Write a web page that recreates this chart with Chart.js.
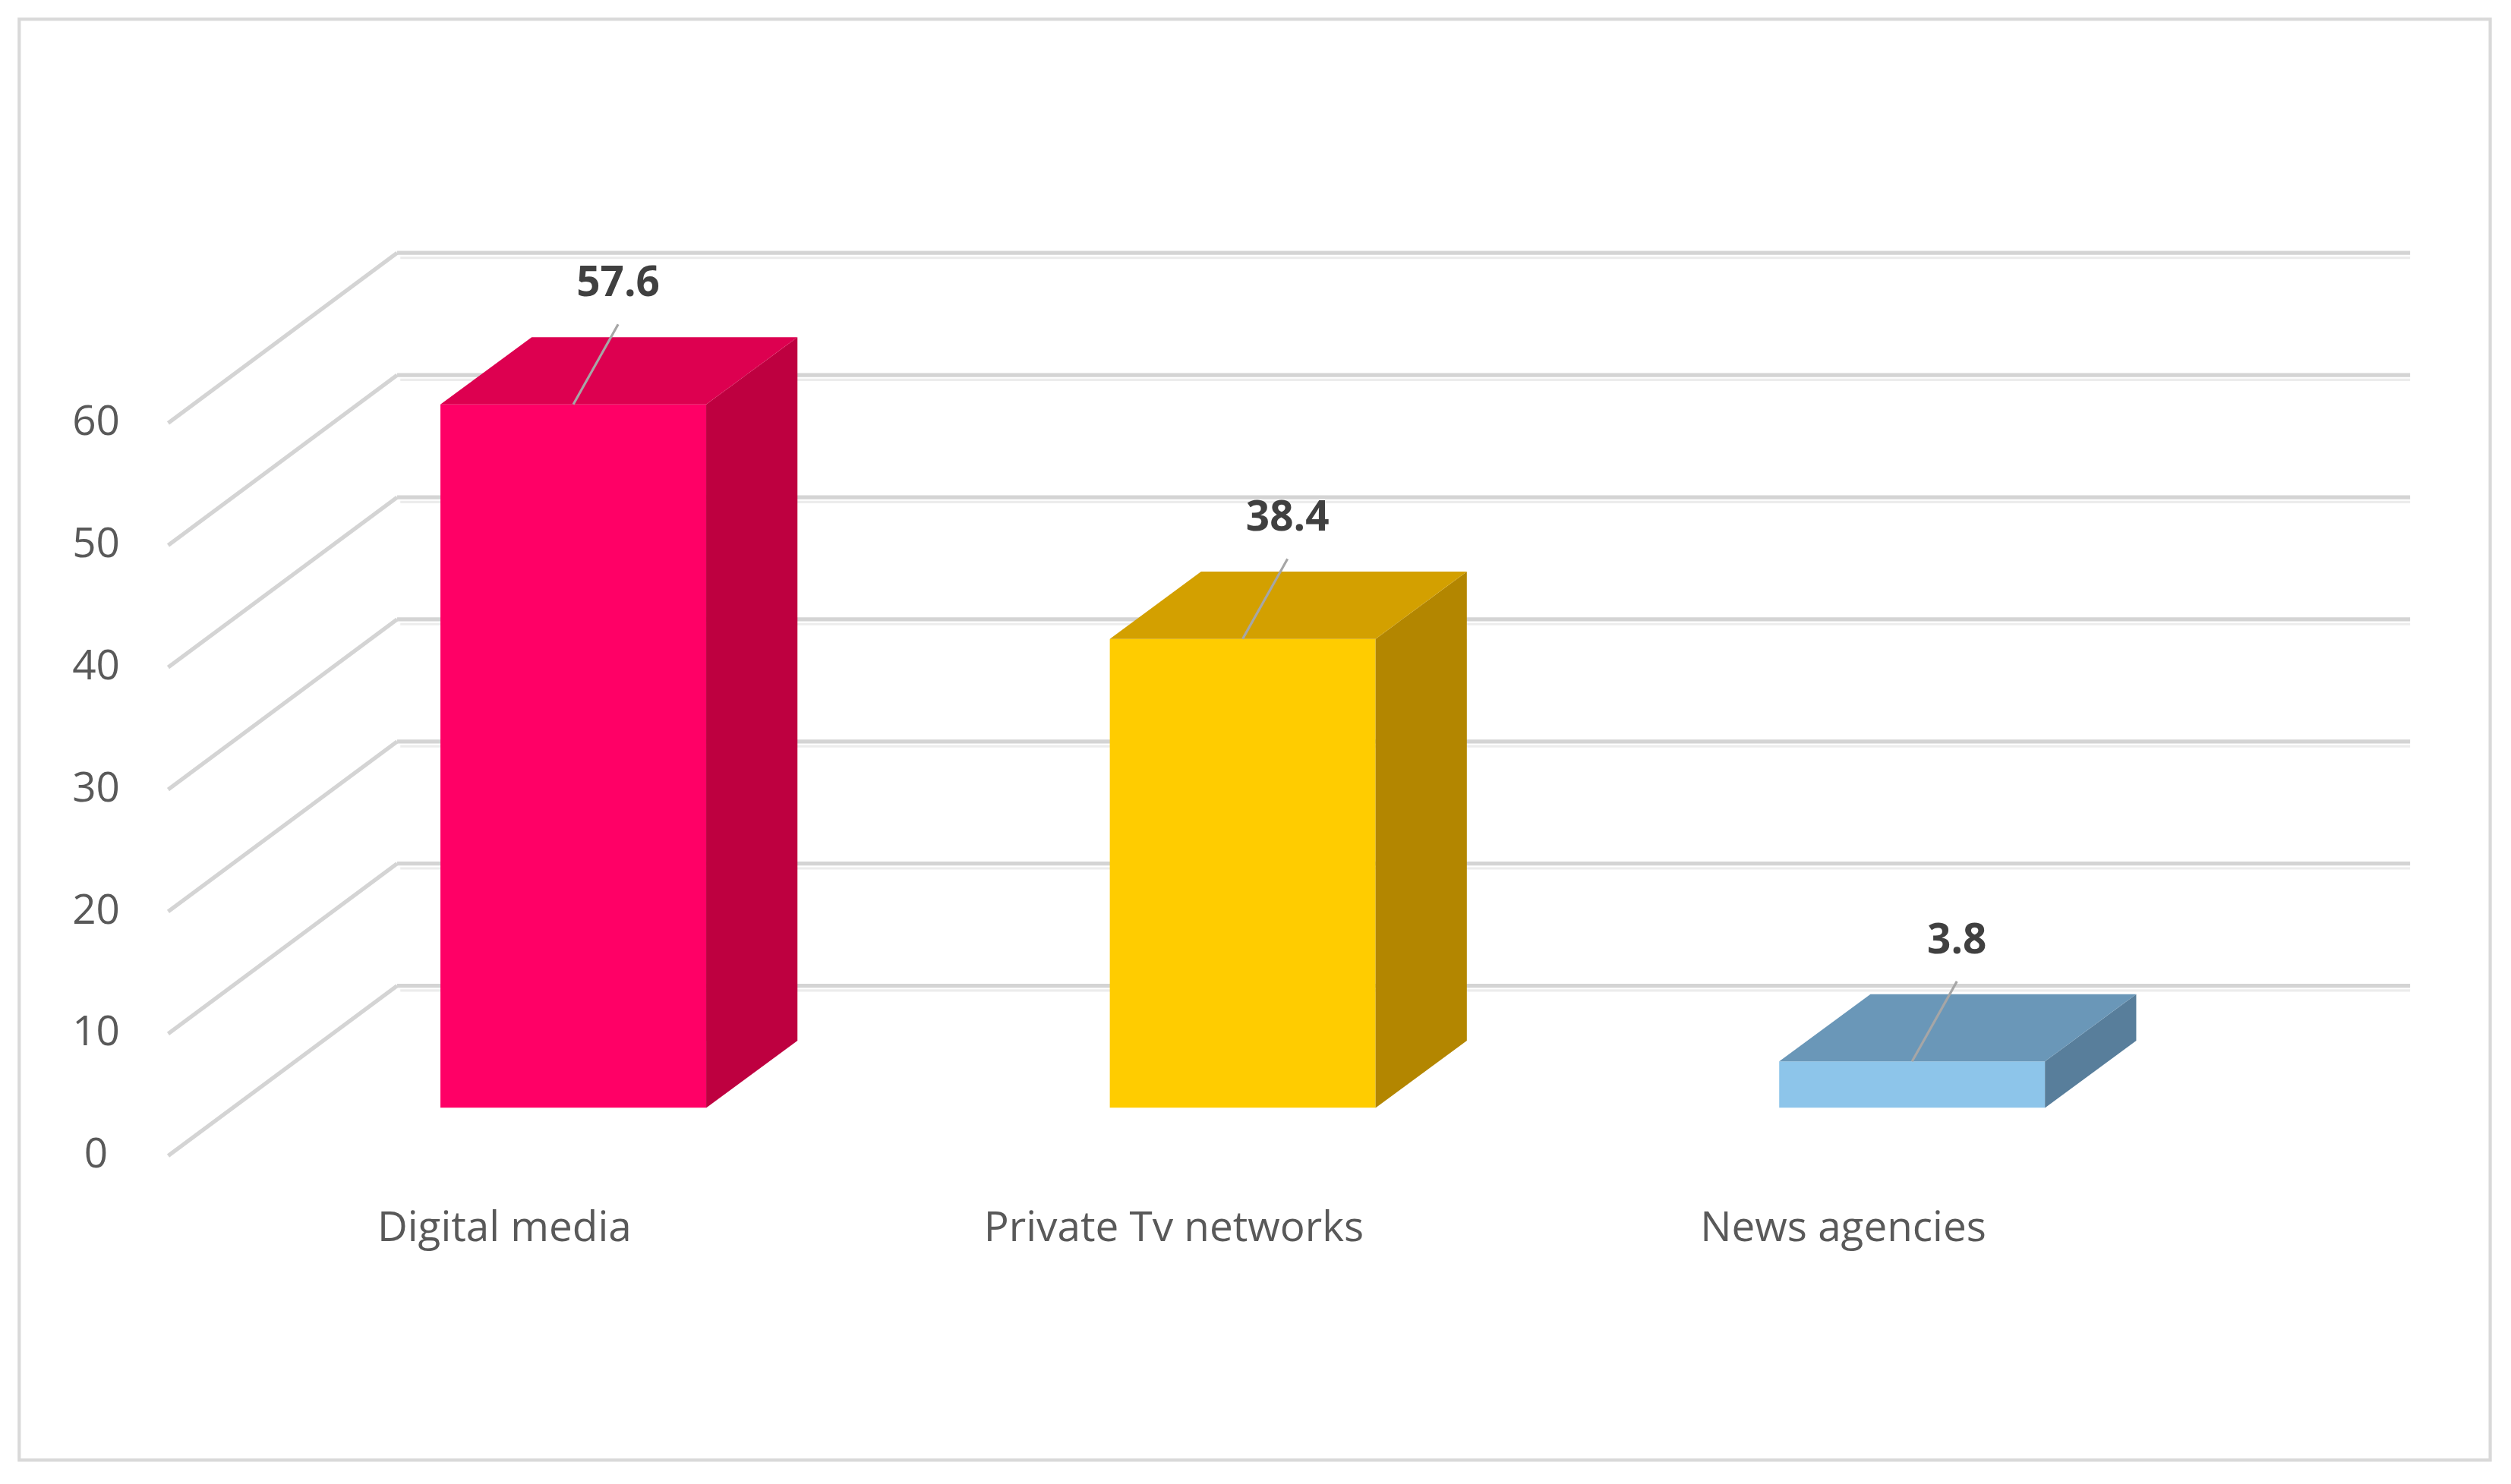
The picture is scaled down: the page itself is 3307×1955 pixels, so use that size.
<!DOCTYPE html>
<html><head><meta charset="utf-8">
<script src="https://cdn.jsdelivr.net/npm/chart.js@4"></script>
<style>html,body{margin:0;padding:0;background:#fff}#wrap{width:3307px;height:1955px}</style>
</head><body><div id="wrap"><canvas id="myChart"></canvas></div>
<script>
var categories = ['Digital media', 'Private Tv networks', 'News agencies'];
var values = [57.6, 38.4, 3.8];
var yTicks = [0, 10, 20, 30, 40, 50, 60];
var frontColors = ['#FF0066', '#FFCC00', '#8DC5EA'];
var sideColors = ['#BE0040', '#B38600', '#587E9B'];
var topColors = ['#DD0050', '#D3A000', '#6A97B8'];

var S = 3307 / 1568; // reference picture scale
var DX = 57 * S, DY = -42 * S; // depth offset of the 3d bars

var threeD = {
  id: 'threeD',
  beforeDatasetsDraw: function(chart) {
    var c = chart.ctx, y = chart.scales.y;
    c.save();
    // outer frame
    c.strokeStyle = '#d9d9d9'; c.lineWidth = 2 * S;
    c.strokeRect(12 * S, 12 * S, 1543 * S, 900 * S);
    // back wall gridlines
    for (var v = 10; v <= 70; v += 10) {
      var py = y.getPixelForValue(v);
      c.strokeStyle = '#d4d4d4'; c.lineWidth = 2.5 * S;
      c.beginPath(); c.moveTo(248 * S, py); c.lineTo(1505 * S, py); c.stroke();
      c.strokeStyle = '#ececec'; c.lineWidth = 1.5 * S;
      c.beginPath(); c.moveTo(250 * S, py + 3 * S); c.lineTo(1505 * S, py + 3 * S); c.stroke();
    }
    // side wall diagonals + labels
    c.font = (26 * S) + 'px "Open Sans", sans-serif';
    c.fillStyle = '#595959'; c.textAlign = 'center'; c.textBaseline = 'middle';
    yTicks.forEach(function(t) {
      var front = y.getPixelForValue(t) + 30 * S;
      var back = y.getPixelForValue(t + 10);
      c.strokeStyle = '#d4d4d4'; c.lineWidth = 2.5 * S;
      c.beginPath(); c.moveTo(105 * S, front); c.lineTo(248 * S, back); c.stroke();
      c.fillText(String(t), 60 * S, front);
    });
    c.restore();
  },
  afterDatasetsDraw: function(chart) {
    var c = chart.ctx, meta = chart.getDatasetMeta(0);
    c.save();
    meta.data.forEach(function(bar, i) {
      var l = bar.x - bar.width / 2, r = bar.x + bar.width / 2, t = bar.y, b = bar.base;
      // side face
      c.fillStyle = sideColors[i];
      c.beginPath(); c.moveTo(r, t); c.lineTo(r + DX, t + DY); c.lineTo(r + DX, b + DY); c.lineTo(r, b); c.closePath(); c.fill();
      // top face
      c.fillStyle = topColors[i];
      c.beginPath(); c.moveTo(l, t); c.lineTo(l + DX, t + DY); c.lineTo(r + DX, t + DY); c.lineTo(r, t); c.closePath(); c.fill();
      // leader line and value label
      var lx = bar.x, ly = t;
      c.strokeStyle = '#a6a6a6'; c.lineWidth = 1.5 * S;
      c.beginPath(); c.moveTo(lx, ly); c.lineTo(lx + 28 * S, ly - 50 * S); c.stroke();
      c.fillStyle = '#404040'; c.font = 'bold ' + (26 * S) + 'px "Open Sans", sans-serif';
      c.textAlign = 'center'; c.textBaseline = 'middle';
      c.fillText(values[i].toFixed(1), lx + 28 * S, ly - 75 * S);
      // category label
      c.fillStyle = '#595959'; c.font = (26 * S) + 'px "Open Sans", sans-serif';
      c.fillText(categories[i], bar.x - 43 * S, 768 * S);
    });
    c.restore();
  }
};

var myChart = new Chart(document.getElementById('myChart').getContext('2d'), {
  type: 'bar',
  data: {
    labels: categories,
    datasets: [{
      data: values,
      backgroundColor: frontColors,
      borderWidth: 0,
      categoryPercentage: 1,
      barPercentage: 0.397
    }]
  },
  options: {
    responsive: true,
    maintainAspectRatio: false,
    animation: false,
    layout: { padding: { left: 149 * S, right: 3307 - 1403 * S, top: 158 * S, bottom: 1955 - 692 * S } },
    scales: {
      x: { display: false },
      y: { display: false, min: 0, max: 70 }
    },
    plugins: { legend: { display: false }, tooltip: { enabled: false } }
  },
  plugins: [threeD]
});
</script>
</body></html>
